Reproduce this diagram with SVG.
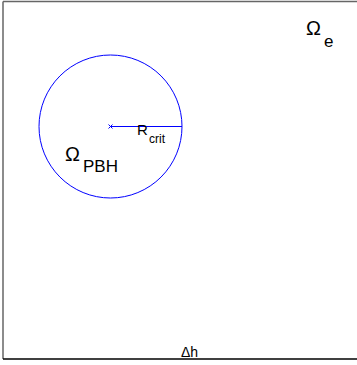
<svg xmlns="http://www.w3.org/2000/svg" width="357" height="365" viewBox="0 0 357 365">
<style>
text{font-family:"Liberation Sans",Arial,sans-serif;fill:#000}
.big{font-size:20px}
.sub{font-size:17px}
</style>
<rect width="357" height="365" fill="#fff"/>
<g id="frame">
<line x1="3" y1="1.5" x2="357" y2="1.5" stroke="#666" stroke-width="1.5"/>
<line x1="3" y1="1.5" x2="3" y2="359" stroke="#666" stroke-width="1.5"/>
<line x1="3" y1="359" x2="357" y2="359" stroke="#000" stroke-width="1.5"/>
</g>
<g id="pbh">
<circle cx="110.5" cy="126.5" r="71.5" fill="none" stroke="#0000ff" stroke-width="1"/>
<text class="big" x="65" y="161">Ω</text>
<text class="sub" x="83" y="172">PBH</text>
</g>
<g id="connectors">
<line x1="110.5" y1="126.5" x2="182" y2="126.5" stroke="#0000ff" stroke-width="1"/>
<path d="M108.5 124.5l4 4M112.5 124.5l-4 4" stroke="#0000ff" stroke-width="1"/>
</g>
<g id="rcrit">
<text x="137" y="135" style="font-size:15px">R</text>
<text x="149" y="143" style="font-size:12px">crit</text>
</g>
<g id="omega-e">
<text class="big" x="306" y="35">Ω</text>
<text class="sub" x="324" y="47">e</text>
</g>
<g id="dh">
<text x="181" y="357" style="font-size:14px">Δh</text>
</g>
</svg>
